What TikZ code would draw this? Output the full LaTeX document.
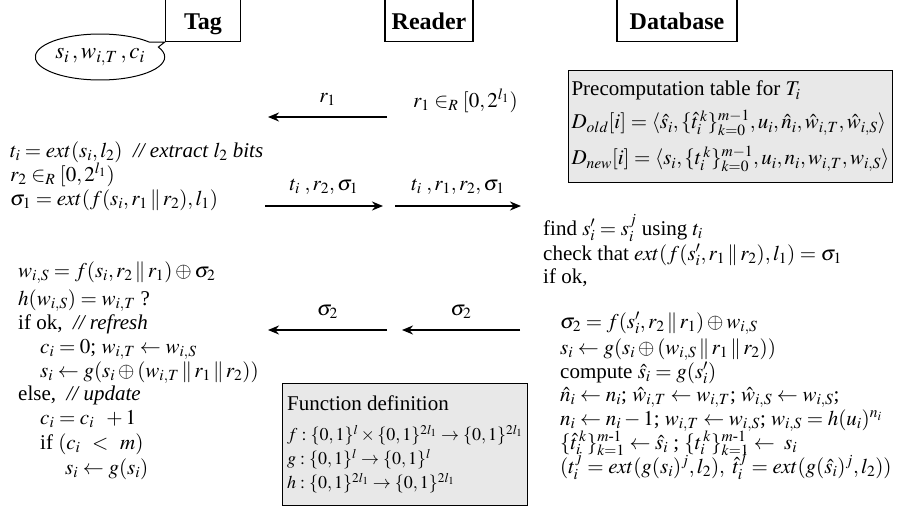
\documentclass[tikz,border=0pt]{standalone}
\usepackage{amsmath, amssymb}
\usepackage{mathptmx}
\usepackage{fontspec}
\setmainfont{Liberation Serif}
\usetikzlibrary{arrows.meta, shapes.callouts}
\tikzset{
  party/.style={draw, line width=1.4pt, font=\fontsize{24}{26}\selectfont\bfseries, inner ysep=6pt,
    text height=26pt, text depth=6pt, anchor=south},
  msg/.style={line width=2.6pt, -{Stealth[length=11pt, width=9pt]}},
  infobox/.style={draw, line width=1.1pt, fill=black!9, align=left, anchor=north west, inner xsep=3pt, inner ysep=3pt},
  txt/.style={anchor=base west, inner sep=0pt},
}
\newcommand{\fdef}{\fontsize{18}{25}\selectfont}

\begin{document}
\begin{tikzpicture}[x=1pt, y=-1pt, every node/.style={font=\fontsize{21}{24}\selectfont}]
  \useasboundingbox (0,0) rectangle (903,517);
  % parties
  \node[party, minimum width=75pt] (tag) at (203,42) {Tag};
  \node[party, minimum width=88pt] (reader) at (429,42) {Reader};
  \node[party, minimum width=120pt] (db) at (677,42) {Database};
  \node[ellipse callout, draw, line width=1pt, minimum width=114pt, minimum height=46pt, inner sep=1pt,
        font=\fontsize{23}{24}\selectfont,
        callout absolute pointer={(tag.south west)}] (mem) at (100,57) {$s_i\,, w_{i,T}\,, c_i$};

  % message end points
  \coordinate (r1s) at (387,117);  \coordinate (r1e) at (268,117);
  \coordinate (m2s) at (265,206);  \coordinate (m2e) at (383,206);
  \coordinate (m3s) at (395,206);  \coordinate (m3e) at (521,206);
  \coordinate (m4s) at (387,330);  \coordinate (m4e) at (268,330);
  \coordinate (m5s) at (520,330);  \coordinate (m5e) at (402,330);
  \draw[msg] (r1s) -- node[above=7pt] {$r_1$} (r1e);
  \draw[msg] (m2s) -- node[above=7pt] {$t_i\;, r_2, \sigma_1$} (m2e);
  \draw[msg] (m3s) -- node[above=7pt] {$t_i\;, r_1, r_2, \sigma_1$} (m3e);
  \draw[msg] (m4s) -- node[above=7pt] {$\sigma_2$} (m4e);
  \draw[msg] (m5s) -- node[above=7pt] {$\sigma_2$} (m5e);

  % reader
  \node[txt] (rd1) at (413,107) {$r_1 \in_R [0, 2^{l_1})$};

  % tag, first pass
  \node[txt] (tg1) at (10,157) {$t_i = ext(s_i, l_2)$\ \ \textit{// extract $l_2$ bits}};
  \node[txt] (tg2) at (10,181) {$r_2 \in_R [0, 2^{l_1})$};
  \node[txt] (tg3) at (10,205) {$\sigma_1 = ext(f(s_i, r_1 \,\|\, r_2), l_1)$};

  % tag, second pass
  \node[txt] (tg4) at (18,277) {$w_{i,S} = f(s_i, r_2 \,\|\, r_1) \oplus \sigma_2$};
  \node[txt] (tg5) at (18,305) {$h(w_{i,S}) = w_{i,T}$ ?};
  \node[txt] (tg6) at (18,329) {if ok, \ \textit{// refresh}};
  \node[txt] (tg7) at (40,353) {$c_i = 0$; $w_{i,T} \leftarrow w_{i,S}$};
  \node[txt] (tg8) at (40,377) {$s_i \leftarrow g(s_i \oplus (w_{i,T} \,\|\, r_1 \,\|\, r_2))$};
  \node[txt] (tg9) at (18,400) {else, \ \textit{// update}};
  \node[txt] (tg10) at (40,424) {$c_i = c_i\;\; +1$};
  \node[txt] (tg11) at (40,449) {if $(c_i\;\, <\;\, m)$};
  \node[txt] (tg12) at (65,474) {$s_i \leftarrow g(s_i)$};

  % functions
  \node[infobox, minimum width=245pt, minimum height=122pt] (fun) at (282,383) {Function definition\\[6pt]
    \fdef $f : \{0,1\}^l \times \{0,1\}^{2l_1} \rightarrow \{0,1\}^{2l_1}$\\
    \fdef $g : \{0,1\}^l \rightarrow \{0,1\}^l$\\
    \fdef $h : \{0,1\}^{2l_1} \rightarrow \{0,1\}^{2l_1}$};

  % database
  \node[infobox, minimum width=309pt, minimum height=112pt] (pre) at (568,70) {Precomputation table for $T_i$\\[9pt]
    $D_{old}[i] = \langle \hat{s}_i, \{\hat{t}_i^{\,k}\}_{k=0}^{m-1}, u_i, \hat{n}_i, \hat{w}_{i,T}, \hat{w}_{i,S}\rangle$\\[9pt]
    $D_{new}[i] = \langle s_i, \{t_i^{\,k}\}_{k=0}^{m-1}, u_i, n_i, w_{i,T}, w_{i,S}\rangle$};
  \node[txt] (db1) at (543,235) {find $s_i' = s_i^j$ using $t_i$};
  \node[txt] (db2) at (543,260) {check that $ext(f(s_i', r_1 \,\|\, r_2), l_1) = \sigma_1$};
  \node[txt] (db3) at (543,283) {if ok,};
  \node[txt] (db4) at (560,328) {$\sigma_2 = f(s_i', r_2 \,\|\, r_1) \oplus w_{i,S}$};
  \node[txt] (db5) at (560,354) {$s_i \leftarrow g(s_i \oplus (w_{i,S} \,\|\, r_1 \,\|\, r_2))$};
  \node[txt] (db6) at (560,378) {compute $\hat{s}_i = g(s_i')$};
  \node[txt] (db7) at (560,401) {$\hat{n}_i \leftarrow n_i$; $\hat{w}_{i,T} \leftarrow w_{i,T}$; $\hat{w}_{i,S} \leftarrow w_{i,S}$;};
  \node[txt] (db8) at (560,425) {$n_i \leftarrow n_i - 1$; $w_{i,T} \leftarrow w_{i,S}$; $w_{i,S} = h(u_i)^{n_i}$};
  \node[txt] (db9) at (560,449) {$\{\hat{t}_i^{\,k}\}_{k=1}^{m\text{-}1} \leftarrow \hat{s}_i$ ; $\{t_i^{\,k}\}_{k=1}^{m\text{-}1} \leftarrow\; s_i$};
  \node[txt] (db10) at (560,473) {$(t_i^j = ext(g(s_i)^j, l_2),\ \hat{t}_i^j = ext(g(\hat{s}_i)^j, l_2))$};
\end{tikzpicture}
\end{document}
